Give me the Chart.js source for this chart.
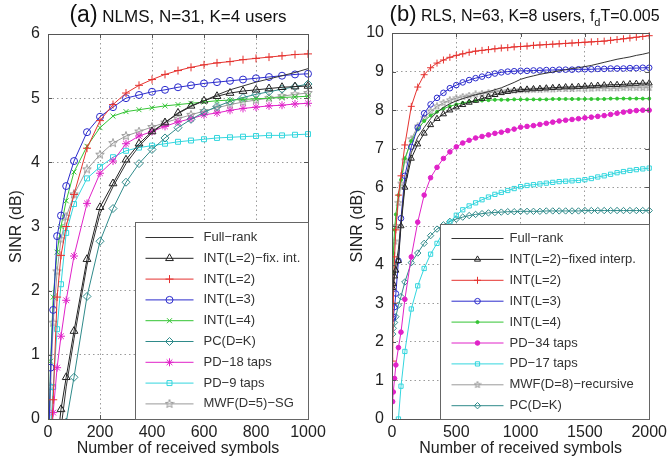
<!DOCTYPE html>
<html>
<head>
<meta charset="utf-8">
<script src="https://cdn.jsdelivr.net/npm/chart.js@4.4.1/dist/chart.umd.min.js"></script>
<style>
  html, body { margin: 0; padding: 0; background: #fff; }
  #wrap { position: relative; width: 671px; height: 465px; }
  .panel { position: absolute; top: 0; height: 465px; }
  #panelA { left: 0; width: 335px; }
  #panelB { left: 335px; width: 336px; }
</style>
</head>
<body>
<div id="wrap">
  <div class="panel" id="panelA"><canvas id="chartA"></canvas></div>
  <div class="panel" id="panelB"><canvas id="chartB"></canvas></div>
</div>
<script>
// ---- panel (a): NLMS ----
const xA = [2, 10, 20, 35, 50, 70, 100, 150, 200, 250, 300, 350, 400, 450, 500, 550, 600, 650, 700, 750, 800, 850, 900, 950, 1000];
const fullA = [-3, -2.4, -1.7, -0.8, -0.15, 0.5, 1.25, 2.4, 3.2, 3.62, 3.98, 4.25, 4.46, 4.62, 4.76, 4.87, 4.96, 5.05, 5.13, 5.19, 5.25, 5.3, 5.35, 5.4, 5.46];
const fixA = [-2.5, -1.8, -1.1, -0.4, 0.15, 0.65, 1.37, 2.49, 3.3, 3.67, 4.04, 4.29, 4.48, 4.62, 4.77, 4.88, 4.96, 5.03, 5.08, 5.11, 5.13, 5.15, 5.17, 5.18, 5.19];
const int2A = [-1.5, -0.5, 0.3, 1.9, 2.55, 3.0, 3.5, 4.22, 4.65, 4.9, 5.08, 5.2, 5.29, 5.37, 5.43, 5.48, 5.52, 5.55, 5.57, 5.6, 5.62, 5.64, 5.66, 5.68, 5.69];
const int3A = [-0.5, 0.8, 1.7, 2.85, 3.17, 3.63, 4.02, 4.47, 4.71, 4.86, 5.0, 5.05, 5.1, 5.13, 5.17, 5.2, 5.23, 5.25, 5.27, 5.29, 5.31, 5.33, 5.35, 5.37, 5.38];
const int4A = [-0.5, 0.9, 1.9, 2.6, 3.0, 3.4, 3.85, 4.25, 4.54, 4.72, 4.79, 4.82, 4.85, 4.88, 4.9, 4.92, 4.94, 4.96, 4.97, 4.98, 4.99, 5.0, 5.01, 5.02, 5.03];
const pcA = [-3, -2.6, -2, -1.3, -0.7, -0.05, 0.65, 1.91, 2.77, 3.28, 3.69, 3.98, 4.2, 4.38, 4.54, 4.67, 4.78, 4.87, 4.95, 5.01, 5.06, 5.1, 5.14, 5.18, 5.22];
const pd18A = [-1, -0.5, 0.1, 0.8, 1.29, 1.85, 2.54, 3.36, 3.83, 4.02, 4.29, 4.41, 4.48, 4.56, 4.63, 4.68, 4.74, 4.77, 4.81, 4.84, 4.86, 4.88, 4.89, 4.91, 4.92];
const pd9A = [-1, -0.2, 0.5, 1.4, 2.1, 2.9, 3.35, 3.75, 3.93, 4.08, 4.18, 4.23, 4.26, 4.29, 4.32, 4.34, 4.36, 4.38, 4.39, 4.4, 4.41, 4.42, 4.42, 4.43, 4.44];
const mwfA = [-0.8, 0.5, 1.5, 2.3, 2.8, 3.15, 3.5, 3.89, 4.12, 4.3, 4.41, 4.48, 4.55, 4.62, 4.68, 4.74, 4.8, 4.85, 4.9, 4.94, 4.97, 5.0, 5.03, 5.06, 5.08];
const labelsA = ['Full\u2212rank', 'INT(L=2)\u2212fix. int.', 'INT(L=2)', 'INT(L=3)', 'INT(L=4)', 'PC(D=K)', 'PD\u221218 taps', 'PD\u22129 taps', 'MWF(D=5)\u2212SG'];

// ---- panel (b): RLS ----
const xB = [5, 10, 20, 30, 50, 70, 100, 150, 200, 250, 300, 350, 400, 450, 500, 550, 600, 650, 700, 750, 800, 850, 900, 950, 1000,
  1050, 1100, 1150, 1200, 1250, 1300, 1350, 1400, 1450, 1500, 1550, 1600, 1650, 1700, 1750, 1800, 1850, 1900, 1950, 2000];
const fullB = [3.2, 3.5, 3.8, 4.0, 4.4, 5.1, 6.1, 6.9, 7.3, 7.55, 7.78, 7.95, 8.07, 8.17, 8.24, 8.3, 8.35, 8.4, 8.44, 8.48, 8.53, 8.58, 8.65, 8.72, 8.8,
  8.85, 8.89, 8.93, 8.96, 8.99, 9.02, 9.05, 9.08, 9.1, 9.13, 9.16, 9.2, 9.24, 9.28, 9.32, 9.35, 9.38, 9.42, 9.45, 9.49];
const fixB = [3.4, 3.5, 3.7, 3.85, 4.1, 5.0, 6.0, 6.75, 7.12, 7.4, 7.62, 7.78, 7.9, 8.0, 8.08, 8.14, 8.2, 8.25, 8.3, 8.35, 8.4, 8.45, 8.48, 8.51, 8.53,
  8.54, 8.55, 8.56, 8.57, 8.58, 8.59, 8.6, 8.6, 8.61, 8.62, 8.63, 8.64, 8.65, 8.66, 8.66, 8.67, 8.68, 8.69, 8.7, 8.7];
const int2B = [1.5, 3.0, 4.2, 4.9, 5.8, 6.3, 7.1, 8.1, 8.6, 8.92, 9.1, 9.22, 9.3, 9.37, 9.42, 9.46, 9.5, 9.53, 9.55, 9.57, 9.59, 9.61, 9.62, 9.64, 9.65,
  9.66, 9.68, 9.69, 9.7, 9.71, 9.72, 9.73, 9.74, 9.75, 9.76, 9.77, 9.78, 9.79, 9.81, 9.83, 9.85, 9.87, 9.89, 9.91, 9.93];
const int3B = [2.6, 2.65, 2.9, 3.25, 4.1, 5.2, 6.3, 7.05, 7.55, 7.92, 8.15, 8.32, 8.45, 8.57, 8.65, 8.72, 8.78, 8.83, 8.87, 8.91, 8.95, 8.98, 9.0, 9.01, 9.02,
  9.02, 9.03, 9.03, 9.04, 9.04, 9.05, 9.05, 9.05, 9.06, 9.06, 9.06, 9.07, 9.07, 9.08, 9.08, 9.08, 9.09, 9.09, 9.1, 9.1];
const int4B = [3.8, 4.3, 4.9, 5.3, 5.8, 6.2, 6.75, 7.2, 7.5, 7.72, 7.86, 7.96, 8.04, 8.1, 8.15, 8.19, 8.22, 8.24, 8.25, 8.26, 8.27, 8.27, 8.27, 8.28, 8.28,
  8.28, 8.28, 8.28, 8.28, 8.29, 8.29, 8.29, 8.29, 8.29, 8.29, 8.29, 8.29, 8.29, 8.3, 8.3, 8.3, 8.3, 8.3, 8.3, 8.3];
const pd34B = [0.45, 0.7, 1.05, 1.4, 1.85, 2.25, 3.1, 4.2, 5.1, 5.8, 6.25, 6.52, 6.75, 6.92, 7.05, 7.15, 7.22, 7.28, 7.32, 7.36, 7.4, 7.43, 7.47, 7.51, 7.56,
  7.58, 7.6, 7.63, 7.66, 7.69, 7.72, 7.74, 7.76, 7.78, 7.8, 7.82, 7.84, 7.86, 7.89, 7.92, 7.95, 7.97, 7.99, 8.0, 8.0];
const pd17B = [-0.6, -0.5, -0.4, -0.3, 0.0, 0.85, 1.75, 2.85, 3.45, 3.9, 4.27, 4.55, 4.85, 5.1, 5.28, 5.42, 5.52, 5.6, 5.68, 5.75, 5.82, 5.87, 5.92, 5.97, 6.02,
  6.05, 6.07, 6.09, 6.11, 6.13, 6.15, 6.16, 6.17, 6.18, 6.2, 6.23, 6.27, 6.3, 6.34, 6.38, 6.41, 6.44, 6.46, 6.48, 6.5];
const mwfB = [3.5, 4.0, 4.6, 5.0, 5.6, 6.1, 6.7, 7.25, 7.58, 7.8, 7.97, 8.1, 8.19, 8.26, 8.31, 8.35, 8.38, 8.41, 8.43, 8.45, 8.47, 8.48, 8.5, 8.51, 8.52,
  8.52, 8.53, 8.53, 8.54, 8.54, 8.55, 8.55, 8.55, 8.56, 8.56, 8.56, 8.57, 8.57, 8.57, 8.57, 8.58, 8.58, 8.58, 8.58, 8.58];
const pcB = [2.2, 2.35, 2.5, 2.65, 2.95, 3.17, 3.55, 4.05, 4.3, 4.55, 4.75, 4.92, 5.03, 5.12, 5.18, 5.23, 5.27, 5.3, 5.32, 5.34, 5.35, 5.36, 5.37, 5.37, 5.38,
  5.38, 5.38, 5.38, 5.39, 5.39, 5.39, 5.39, 5.39, 5.39, 5.4, 5.4, 5.4, 5.4, 5.4, 5.4, 5.4, 5.4, 5.4, 5.4, 5.4];
const labelsB = ['Full\u2212rank', 'INT(L=2)\u2212fixed interp.', 'INT(L=2)', 'INT(L=3)', 'INT(L=4)', 'PD\u221234 taps', 'PD\u221217 taps', 'MWF(D=8)\u2212recursive', 'PC(D=K)'];

const FONT = "'Liberation Sans', Arial, Helvetica, sans-serif";

// 5-point star marker (MATLAB 'p')
function makeStar(size, color) {
  const c = document.createElement('canvas');
  c.width = c.height = size;
  const g = c.getContext('2d');
  const r = size / 2 - 0.5, cx = size / 2, cy = size / 2;
  g.beginPath();
  for (let i = 0; i < 10; i++) {
    const rr = i % 2 ? r * 0.42 : r;
    const a = -Math.PI / 2 + i * Math.PI / 5;
    g.lineTo(cx + rr * Math.cos(a), cy + rr * Math.sin(a));
  }
  g.closePath();
  g.strokeStyle = color;
  g.lineWidth = 1;
  g.stroke();
  return c;
}

function series(label, xs, ys, color, style, radius, filled) {
  return {
    label: label,
    data: xs.map((x, i) => ({ x: x, y: ys[i] })),
    borderColor: color,
    borderWidth: 1,
    pointStyle: style,
    pointRadius: radius,
    pointBorderColor: color,
    pointBackgroundColor: filled ? color : 'rgba(0,0,0,0)',
    pointBorderWidth: 1,
    tension: 0,
    clip: { left: 0, top: 6, right: 6, bottom: 0 }
  };
}

// box, inner ticks, boxed legend and title
const framePlugin = {
  id: 'frame',
  afterDraw(chart, args, opts) {
    const ctx = chart.ctx, a = chart.chartArea;
    const sx = chart.scales.x, sy = chart.scales.y;
    ctx.save();
    ctx.strokeStyle = '#555';
    ctx.lineWidth = 1;
    ctx.beginPath();
    sx.ticks.forEach(t => {
      const p = Math.round(sx.getPixelForValue(t.value)) + 0.5;
      ctx.moveTo(p, a.bottom); ctx.lineTo(p, a.bottom - 4);
      ctx.moveTo(p, a.top); ctx.lineTo(p, a.top + 4);
    });
    sy.ticks.forEach(t => {
      const p = Math.round(sy.getPixelForValue(t.value)) + 0.5;
      ctx.moveTo(a.left, p); ctx.lineTo(a.left + 4, p);
      ctx.moveTo(a.right, p); ctx.lineTo(a.right - 4, p);
    });
    ctx.stroke();
    ctx.strokeRect(Math.round(a.left) + 0.5, Math.round(a.top) + 0.5, Math.round(a.right - a.left), Math.round(a.bottom - a.top));

    // legend
    const lg = opts.legend;
    const lx = Math.round(a.right - lg.width) + 0.5, ly = Math.round(a.bottom - lg.height) + 0.5;
    ctx.fillStyle = '#fff';
    ctx.fillRect(lx, ly, lg.width, lg.height);
    ctx.strokeStyle = '#666';
    ctx.strokeRect(lx, ly, Math.round(lg.width), Math.round(lg.height));
    ctx.font = lg.fontSize + 'px ' + FONT;
    ctx.textBaseline = 'middle';
    ctx.textAlign = 'left';
    chart.data.datasets.forEach((ds, i) => {
      const y = ly + lg.first + i * lg.rowH;
      ctx.strokeStyle = ds.borderColor;
      ctx.beginPath();
      ctx.moveTo(lx + lg.lineStart, y);
      ctx.lineTo(lx + lg.lineEnd, y);
      ctx.stroke();
      if (ds.pointStyle && ds.pointRadius > 0 && Chart.helpers && Chart.helpers.drawPoint) {
        ctx.fillStyle = ds.pointBackgroundColor;
        ctx.strokeStyle = ds.pointBorderColor;
        Chart.helpers.drawPoint(ctx, { pointStyle: ds.pointStyle, radius: ds.pointRadius, borderWidth: 1, rotation: 0 },
          lx + (lg.lineStart + lg.lineEnd) / 2, y);
      }
      ctx.fillStyle = '#333';
      ctx.fillText(ds.label, lx + lg.textX, y);
    });

    // title made of runs with their own sizes
    const tt = opts.title;
    let w = 0;
    tt.parts.forEach(p => { ctx.font = p.size + 'px ' + FONT; w += ctx.measureText(p.text).width; });
    let x = (a.left + a.right) / 2 + tt.shift - w / 2;
    ctx.fillStyle = '#111';
    ctx.textBaseline = 'alphabetic';
    tt.parts.forEach(p => {
      ctx.font = p.size + 'px ' + FONT;
      ctx.fillText(p.text, x, tt.baseline + (p.dy || 0));
      x += ctx.measureText(p.text).width;
    });
    ctx.restore();
  }
};

function axes(xmax, xstep, ymax, yWidth, yTitlePad) {
  const tickFont = { family: FONT, size: 16 };
  return {
    x: {
      type: 'linear', min: 0, max: xmax,
      ticks: { stepSize: xstep, padding: 4, color: '#222', font: tickFont, maxRotation: 0, callback: v => String(v) },
      grid: { color: '#9a9a9a', lineWidth: 1, drawTicks: false },
      border: { display: false, dash: [1.5, 3] },
      title: { display: true, text: 'Number of received symbols', color: '#222', font: tickFont, padding: { top: 0, bottom: 7 } },
      afterFit: s => { s.height = 46; }
    },
    y: {
      min: 0, max: ymax,
      ticks: { stepSize: 1, padding: 8, color: '#222', font: tickFont, callback: v => String(v) },
      grid: { color: '#9a9a9a', lineWidth: 1, drawTicks: false },
      border: { display: false, dash: [1.5, 3] },
      title: { display: true, text: 'SINR (dB)', color: '#222', font: tickFont, padding: { top: yTitlePad, bottom: 0 } },
      afterFit: s => { s.width = yWidth; }
    }
  };
}

const RED = '#e5322f', BLUE = '#2b2bcc', GREEN = '#33c433', TEAL = '#2f8a8a',
      MAG = '#e022c8', CYAN = '#33d6de', GRAY = '#9a9a9a', DARK = '#333333', BLACK = '#222222';

new Chart(document.getElementById('chartA'), {
  type: 'line',
  data: {
    datasets: [
      series(labelsA[0], xA, fullA, DARK, false, 0, false),
      series(labelsA[1], xA, fixA, BLACK, 'triangle', 4.5, false),
      series(labelsA[2], xA, int2A, RED, 'cross', 4, false),
      series(labelsA[3], xA, int3A, BLUE, 'circle', 3.5, false),
      series(labelsA[4], xA, int4A, GREEN, 'crossRot', 3.5, false),
      series(labelsA[5], xA, pcA, TEAL, 'rectRot', 4, false),
      series(labelsA[6], xA, pd18A, MAG, 'star', 4, false),
      series(labelsA[7], xA, pd9A, CYAN, 'rect', 3.5, false),
      series(labelsA[8], xA, mwfA, GRAY, makeStar(10, GRAY), 5, false)
    ]
  },
  options: {
    responsive: true, maintainAspectRatio: false, animation: false,
    layout: { padding: { left: 0, right: 27, top: 34, bottom: 0 } },
    plugins: {
      legend: { display: false },
      tooltip: { enabled: false },
      frame: {
        legend: { width: 173, height: 197, first: 15, rowH: 20.8, lineStart: 10, lineEnd: 58, textX: 68, fontSize: 13 },
        title: { baseline: 22, shift: 0, parts: [{ text: '(a)', size: 23 }, { text: ' NLMS, N=31, K=4 users', size: 17 }] }
      }
    },
    scales: axes(1000, 200, 6, 48, 7)
  },
  plugins: [framePlugin]
});

new Chart(document.getElementById('chartB'), {
  type: 'line',
  data: {
    datasets: [
      series(labelsB[0], xB, fullB, DARK, false, 0, false),
      series(labelsB[1], xB, fixB, BLACK, 'triangle', 3.5, false),
      series(labelsB[2], xB, int2B, RED, 'cross', 3.5, false),
      series(labelsB[3], xB, int3B, BLUE, 'circle', 2.8, false),
      series(labelsB[4], xB, int4B, GREEN, 'circle', 1.5, true),
      series(labelsB[5], xB, pd34B, MAG, 'circle', 2.3, true),
      series(labelsB[6], xB, pd17B, CYAN, 'rect', 3, false),
      series(labelsB[7], xB, mwfB, GRAY, makeStar(8, GRAY), 4, false),
      series(labelsB[8], xB, pcB, TEAL, 'rectRot', 3.2, false)
    ]
  },
  options: {
    responsive: true, maintainAspectRatio: false, animation: false,
    layout: { padding: { left: 0, right: 19, top: 33, bottom: 0 } },
    plugins: {
      legend: { display: false },
      tooltip: { enabled: false },
      frame: {
        legend: { width: 209, height: 195, first: 14, rowH: 20.9, lineStart: 11, lineEnd: 63, textX: 69, fontSize: 13 },
        title: { baseline: 21, shift: 4, parts: [
          { text: '(b)', size: 22 }, { text: ' RLS, N=63, K=8 users, f', size: 16 },
          { text: 'd', size: 11, dy: 5 }, { text: 'T=0.005', size: 16 }] }
      }
    },
    scales: axes(2000, 500, 10, 57, 13)
  },
  plugins: [framePlugin]
});
</script>
</body>
</html>
